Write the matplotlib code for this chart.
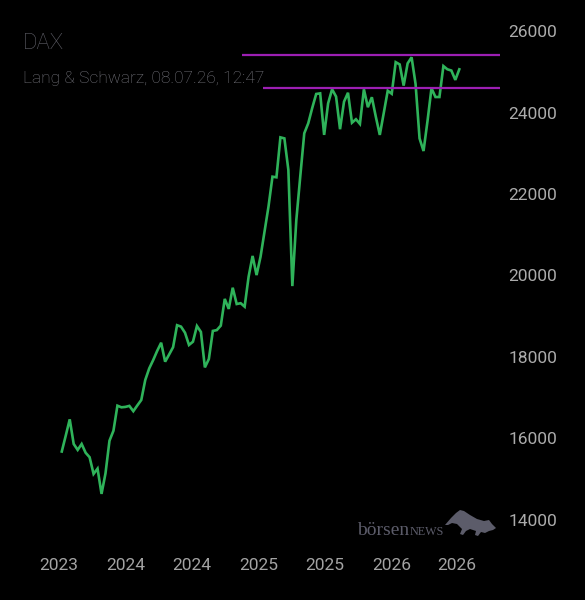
import matplotlib
matplotlib.use("Agg")
import matplotlib.pyplot as plt
import matplotlib.dates as mdates
from matplotlib.patches import Polygon
import pandas as pd

# DAX Schlusskurse, Juli 2023 bis Juli 2026
values = [
    15680, 16070, 16470, 15865, 15720, 15865, 15650, 15540, 15130, 15260,
    14640, 15145, 15945, 16190, 16805, 16765, 16775, 16800, 16670, 16810,
    16945, 17435, 17720, 17925, 18150, 18350, 17885, 18060, 18240, 18780,
    18745, 18595, 18295, 18375, 18760, 18615, 17745, 17950, 18640, 18660,
    18770, 19425, 19180, 19700, 19300, 19320, 19235, 19970, 20480, 20010,
    20460, 21075, 21690, 22425, 22410, 23390, 23365, 22590, 19740, 21360,
    22440, 23490, 23735, 24110, 24455, 24470, 23450, 24225, 24570, 24390,
    23590, 24265, 24485, 23750, 23835, 23720, 24570, 24130, 24375, 23895,
    23450, 23990, 24535, 24460, 25235, 25180, 24660, 25205, 25355, 24700,
    23365, 23055, 23790, 24595, 24380, 24380, 25140, 25060, 25030, 24800,
    25060,
]
start_date = "2023-07-09"
end_date = "2026-07-07"

# Widerstand / Unterstuetzung
resist_level = 25400
resist_from = "2024-11-16"
support_level = 24610
support_from = "2025-01-14"

tick_dates = ["2023-07-01", "2024-01-01", "2024-07-01", "2025-01-01",
              "2025-07-01", "2026-01-01", "2026-07-01"]
y_ticks = [14000, 16000, 18000, 20000, 22000, 24000, 26000]

title = "DAX"
subtitle = "Lang & Schwarz, 08.07.26, 12:47"

dates = pd.date_range(start_date, end_date, periods=len(values))

plt.rcParams['font.family'] = ['Roboto', 'DejaVu Sans']

fig = plt.figure(figsize=(5.85, 6), dpi=100, facecolor='black')
ax = fig.add_axes([0.0, 55 / 600, 500 / 585, 545 / 600])
ax.set_facecolor('black')

ax.plot(dates, values, color='#2fb35a', linewidth=1.9, solid_joinstyle='miter')

x0 = pd.Timestamp("2023-01-20")
x1 = pd.Timestamp("2026-10-27")
ax.set_xlim(x0, x1)
ax.set_ylim(13386, 26761)

ax.plot([pd.Timestamp(resist_from), x1], [resist_level, resist_level],
        color='#9c1fb3', linewidth=1.6, solid_capstyle='butt')
ax.plot([pd.Timestamp(support_from), x1], [support_level, support_level],
        color='#9c1fb3', linewidth=1.6, solid_capstyle='butt')

ax.set_xticks(pd.to_datetime(tick_dates))
ax.xaxis.set_major_formatter(mdates.DateFormatter('%Y'))
ax.set_yticks(y_ticks)
ax.yaxis.tick_right()
ax.tick_params(axis='x', length=0, pad=9, labelsize=12.5, colors='#a3a3a3')
ax.tick_params(axis='y', length=0, pad=6, labelsize=12.5, colors='#ababab')
for s in ax.spines.values():
    s.set_visible(False)

# Titel
fig.text(22.7 / 585, 1 - 49.3 / 600, title, color='#606069', fontsize=16,
         fontweight='light', va='baseline', ha='left')
fig.text(22.7 / 585, 1 - 82.7 / 600, subtitle, color='#77777f', fontsize=12.5,
         fontweight='light', va='baseline', ha='left')

# Logo
fig.text(356.7 / 585, 1 - 535 / 600, "börsen", color='#5c5c6a', fontsize=14,
         family='Liberation Serif', va='baseline', ha='left')
fig.text(410 / 585, 1 - 535 / 600, "NEWS", color='#5c5c6a', fontsize=8.7,
         family='Liberation Serif', va='baseline', ha='left')
bull = [(445, 525), (451, 518), (456, 513), (460, 510), (464, 511), (470, 515),
        (477, 519), (484, 521), (489, 520), (492, 524), (496, 528), (493, 530),
        (489, 531), (485, 533), (481, 532), (478, 536), (475, 535), (476, 531),
        (470, 529), (466, 531), (463, 535), (460, 534), (462, 529), (457, 524),
        (452, 523), (448, 525)]
fig.patches.append(Polygon([(x / 585, 1 - y / 600) for x, y in bull],
                           closed=True, transform=fig.transFigure,
                           facecolor='#5c5c6a', edgecolor='none'))

plt.savefig('out.png', dpi=100, facecolor='black')
